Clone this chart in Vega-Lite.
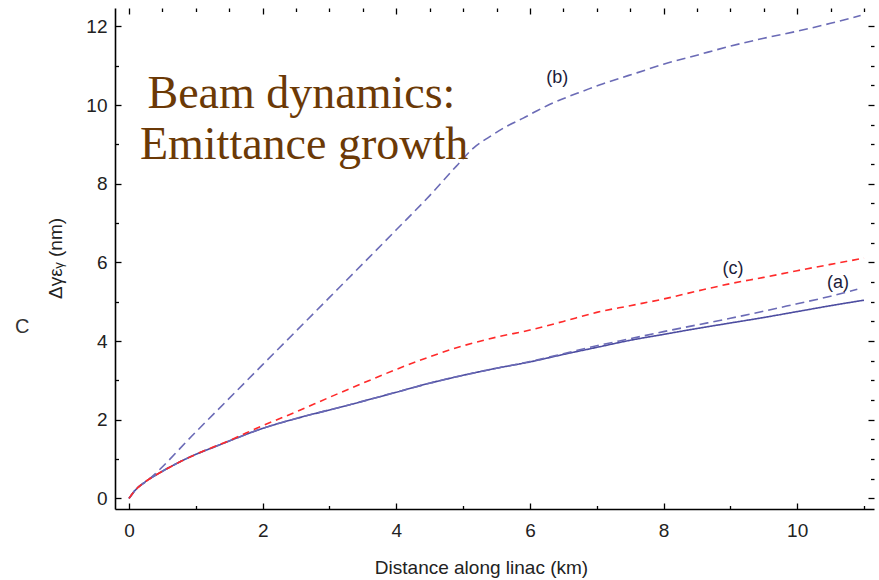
{
  "$schema": "https://vega.github.io/schema/vega-lite/v6.json",
  "width": 759,
  "height": 501,
  "autosize": {"type": "none"},
  "padding": {"left": 115, "top": 8, "right": 5, "bottom": 71},
  "background": "white",
  "config": {"view": {"stroke": null}},
  "datasets": {
    "curves": [
      {"s": "a1", "x": 0, "y": 0}, {"s": "a1", "x": 0.1, "y": 0.22}, {"s": "a1", "x": 0.25, "y": 0.43}, {"s": "a1", "x": 0.5, "y": 0.69}, {"s": "a1", "x": 0.75, "y": 0.92}, {"s": "a1", "x": 1, "y": 1.12}, {"s": "a1", "x": 1.25, "y": 1.29}, {"s": "a1", "x": 1.5, "y": 1.46}, {"s": "a1", "x": 2, "y": 1.78}, {"s": "a1", "x": 2.5, "y": 2.03}, {"s": "a1", "x": 3, "y": 2.25}, {"s": "a1", "x": 3.5, "y": 2.47}, {"s": "a1", "x": 4, "y": 2.7}, {"s": "a1", "x": 4.5, "y": 2.93}, {"s": "a1", "x": 5, "y": 3.13}, {"s": "a1", "x": 5.5, "y": 3.31}, {"s": "a1", "x": 6, "y": 3.47}, {"s": "a1", "x": 6.5, "y": 3.66}, {"s": "a1", "x": 7, "y": 3.84}, {"s": "a1", "x": 7.5, "y": 4.02}, {"s": "a1", "x": 8, "y": 4.17}, {"s": "a1", "x": 8.5, "y": 4.32}, {"s": "a1", "x": 9, "y": 4.46}, {"s": "a1", "x": 9.5, "y": 4.6}, {"s": "a1", "x": 10, "y": 4.75}, {"s": "a1", "x": 10.5, "y": 4.9}, {"s": "a1", "x": 11, "y": 5.04},
      {"s": "a2", "x": 0, "y": 0}, {"s": "a2", "x": 0.1, "y": 0.22}, {"s": "a2", "x": 0.25, "y": 0.43}, {"s": "a2", "x": 0.5, "y": 0.69}, {"s": "a2", "x": 0.75, "y": 0.92}, {"s": "a2", "x": 1, "y": 1.12}, {"s": "a2", "x": 1.25, "y": 1.29}, {"s": "a2", "x": 1.5, "y": 1.46}, {"s": "a2", "x": 2, "y": 1.78}, {"s": "a2", "x": 2.5, "y": 2.03}, {"s": "a2", "x": 3, "y": 2.25}, {"s": "a2", "x": 3.5, "y": 2.47}, {"s": "a2", "x": 4, "y": 2.7}, {"s": "a2", "x": 4.5, "y": 2.93}, {"s": "a2", "x": 5, "y": 3.13}, {"s": "a2", "x": 5.5, "y": 3.31}, {"s": "a2", "x": 6, "y": 3.48}, {"s": "a2", "x": 6.5, "y": 3.68}, {"s": "a2", "x": 7, "y": 3.88}, {"s": "a2", "x": 7.5, "y": 4.06}, {"s": "a2", "x": 8, "y": 4.24}, {"s": "a2", "x": 8.5, "y": 4.41}, {"s": "a2", "x": 9, "y": 4.58}, {"s": "a2", "x": 9.5, "y": 4.76}, {"s": "a2", "x": 10, "y": 4.95}, {"s": "a2", "x": 10.5, "y": 5.14}, {"s": "a2", "x": 10.9, "y": 5.32},
      {"s": "b", "x": 0, "y": 0}, {"s": "b", "x": 0.1, "y": 0.22}, {"s": "b", "x": 0.28, "y": 0.46}, {"s": "b", "x": 1, "y": 1.69}, {"s": "b", "x": 2, "y": 3.4}, {"s": "b", "x": 3, "y": 5.11}, {"s": "b", "x": 4, "y": 6.83}, {"s": "b", "x": 4.5, "y": 7.7}, {"s": "b", "x": 4.9, "y": 8.45}, {"s": "b", "x": 5.15, "y": 8.9}, {"s": "b", "x": 5.4, "y": 9.2}, {"s": "b", "x": 5.65, "y": 9.46}, {"s": "b", "x": 5.9, "y": 9.67}, {"s": "b", "x": 6.1, "y": 9.85}, {"s": "b", "x": 6.3, "y": 10.02}, {"s": "b", "x": 6.55, "y": 10.2}, {"s": "b", "x": 6.8, "y": 10.36}, {"s": "b", "x": 7.05, "y": 10.52}, {"s": "b", "x": 7.3, "y": 10.66}, {"s": "b", "x": 7.6, "y": 10.82}, {"s": "b", "x": 8, "y": 11.04}, {"s": "b", "x": 8.5, "y": 11.27}, {"s": "b", "x": 9, "y": 11.5}, {"s": "b", "x": 9.5, "y": 11.7}, {"s": "b", "x": 10, "y": 11.88}, {"s": "b", "x": 10.5, "y": 12.08}, {"s": "b", "x": 10.95, "y": 12.28},
      {"s": "c", "x": 0, "y": 0}, {"s": "c", "x": 0.1, "y": 0.22}, {"s": "c", "x": 0.25, "y": 0.43}, {"s": "c", "x": 0.5, "y": 0.69}, {"s": "c", "x": 1, "y": 1.12}, {"s": "c", "x": 1.5, "y": 1.47}, {"s": "c", "x": 2, "y": 1.85}, {"s": "c", "x": 2.5, "y": 2.2}, {"s": "c", "x": 3, "y": 2.57}, {"s": "c", "x": 3.5, "y": 2.93}, {"s": "c", "x": 4, "y": 3.28}, {"s": "c", "x": 4.5, "y": 3.6}, {"s": "c", "x": 5, "y": 3.88}, {"s": "c", "x": 5.5, "y": 4.1}, {"s": "c", "x": 6, "y": 4.28}, {"s": "c", "x": 6.5, "y": 4.5}, {"s": "c", "x": 7, "y": 4.73}, {"s": "c", "x": 7.5, "y": 4.9}, {"s": "c", "x": 8, "y": 5.07}, {"s": "c", "x": 8.5, "y": 5.27}, {"s": "c", "x": 9, "y": 5.46}, {"s": "c", "x": 9.5, "y": 5.62}, {"s": "c", "x": 10, "y": 5.79}, {"s": "c", "x": 10.5, "y": 5.95}, {"s": "c", "x": 11, "y": 6.11}
    ],
    "headline": [
      {"t": "Beam dynamics:", "x": 2.58, "y": 9.93},
      {"t": "Emittance growth", "x": 2.62, "y": 8.62}
    ],
    "tags": [
      {"t": "(b)", "x": 6.41, "y": 10.68},
      {"t": "(c)", "x": 9.04, "y": 5.83},
      {"t": "(a)", "x": 10.61, "y": 5.48}
    ],
    "stray": [
      {"t": "C", "x": -1.6, "y": 4.35}
    ]
  },
  "resolve": {"axis": {"x": "independent", "y": "independent"}},
  "layer": [
    {
      "data": {"name": "curves"},
      "mark": {"type": "line", "strokeWidth": 1.6, "interpolate": "monotone"},
      "encoding": {
        "x": {
          "field": "x", "type": "quantitative",
          "scale": {"domain": [-0.21, 11.15], "nice": false, "zero": false},
          "axis": {
            "orient": "bottom",
            "title": "Distance along linac (km)",
            "titleFont": "Liberation Sans", "titleFontSize": 19, "titleFontWeight": "normal", "titleColor": "#222",
            "titlePadding": 16, "titleX": 366,
            "values": [0,0.5,1,1.5,2,2.5,3,3.5,4,4.5,5,5.5,6,6.5,7,7.5,8,8.5,9,9.5,10,10.5,11],
            "format": "d",
            "labelExpr": "datum.value % 2 === 0 ? datum.label : ''",
            "labelOverlap": false, "labelBound": false, "labelFlush": false,
            "labelFont": "Liberation Sans", "labelFontSize": 19, "labelColor": "#222",
            "labelPadding": 18,
            "domainColor": "#000", "domainWidth": 1.6,
            "tickColor": "#000", "tickWidth": 1.3,
            "tickSize": {"condition": {"test": "datum.value % 2 === 0", "value": -6}, "value": -3.5},
            "grid": false
          }
        },
        "y": {
          "field": "y", "type": "quantitative",
          "scale": {"domain": [-0.27, 12.47], "nice": false, "zero": false},
          "axis": {
            "orient": "left",
            "title": "Δγεᵧ (nm)",
            "titleFont": "Liberation Sans", "titleFontSize": 19, "titleFontWeight": "normal", "titleColor": "#222",
            "titleX": -60, "titleY": 250, "titleBaseline": "middle", "titleAlign": "center", "titleAngle": -90,
            "values": [0,0.5,1,1.5,2,2.5,3,3.5,4,4.5,5,5.5,6,6.5,7,7.5,8,8.5,9,9.5,10,10.5,11,11.5,12],
            "format": "d",
            "labelExpr": "datum.value % 2 === 0 ? datum.label : ''",
            "labelOverlap": false, "labelBound": false, "labelFlush": false,
            "labelFont": "Liberation Sans", "labelFontSize": 19, "labelColor": "#222",
            "labelPadding": 14,
            "domainColor": "#000", "domainWidth": 1.6,
            "tickColor": "#000", "tickWidth": 1.3,
            "tickSize": {"condition": {"test": "datum.value % 2 === 0", "value": -6}, "value": -3.5},
            "grid": false
          }
        },
        "color": {
          "field": "s", "type": "nominal",
          "scale": {"domain": ["a1", "a2", "c", "b"], "range": ["#4c4ca0", "#6b6bb6", "#ff2a2a", "#6b6bb6"]},
          "legend": null
        },
        "strokeDash": {
          "field": "s", "type": "nominal",
          "scale": {"domain": ["a1", "a2", "c", "b"], "range": [[1, 0], [9, 5], [7, 5], [9, 5]]},
          "legend": null
        }
      }
    },
    {
      "data": {"name": "headline"},
      "mark": {"type": "text", "font": "Liberation Serif", "fontSize": 46, "color": "#6b3906", "align": "center", "baseline": "alphabetic"},
      "encoding": {
        "x": {"field": "x", "type": "quantitative",
          "axis": {"orient": "top", "title": null, "labels": false, "domain": false,
            "values": [0,0.5,1,1.5,2,2.5,3,3.5,4,4.5,5,5.5,6,6.5,7,7.5,8,8.5,9,9.5,10,10.5,11],
            "tickColor": "#000", "tickWidth": 1.3,
            "tickSize": {"condition": {"test": "datum.value % 2 === 0", "value": -6}, "value": -3.5},
            "grid": false}},
        "y": {"field": "y", "type": "quantitative",
          "axis": {"orient": "right", "title": null, "labels": false, "domain": false,
            "values": [0,0.5,1,1.5,2,2.5,3,3.5,4,4.5,5,5.5,6,6.5,7,7.5,8,8.5,9,9.5,10,10.5,11,11.5,12],
            "tickColor": "#000", "tickWidth": 1.3,
            "tickSize": {"condition": {"test": "datum.value % 2 === 0", "value": -6}, "value": -3.5},
            "grid": false}},
        "text": {"field": "t"}
      }
    },
    {
      "data": {"name": "tags"},
      "mark": {"type": "text", "font": "Liberation Sans", "fontSize": 18, "color": "#1c1c3a", "align": "center", "baseline": "middle"},
      "encoding": {
        "x": {"field": "x", "type": "quantitative", "axis": null},
        "y": {"field": "y", "type": "quantitative", "axis": null},
        "text": {"field": "t"}
      }
    },
    {
      "data": {"name": "stray"},
      "mark": {"type": "text", "font": "Liberation Sans", "fontSize": 20, "color": "#333", "align": "center", "baseline": "middle"},
      "encoding": {
        "x": {"field": "x", "type": "quantitative", "axis": null},
        "y": {"field": "y", "type": "quantitative", "axis": null},
        "text": {"field": "t"}
      }
    }
  ]
}
